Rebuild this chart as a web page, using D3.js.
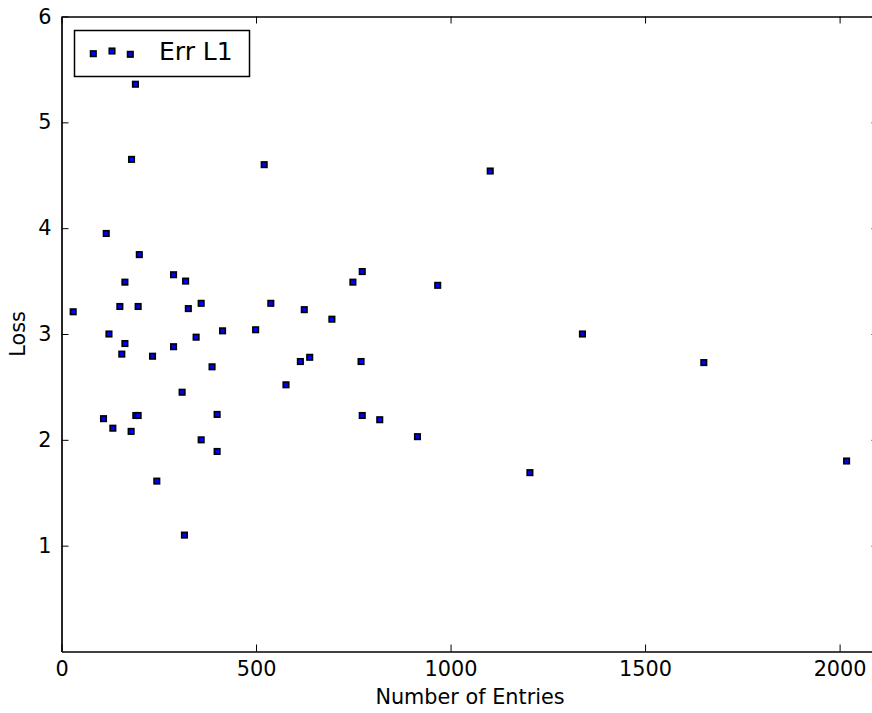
<!DOCTYPE html>
<html>
<head>
<meta charset="utf-8">
<script src="https://cdn.jsdelivr.net/npm/d3@7"></script>
<style>
  body { margin: 0; background: #fff; }
  svg { display: block; font-family: "DejaVu Sans", sans-serif; }
</style>
</head>
<body>
<div id="chart"></div>
<script>
// number of entries vs loss
var entries = [30, 190, 180, 521, 1102, 115, 200, 288, 319, 163,
               150, 197, 326, 359, 538, 624, 122, 346, 414, 499,
               163, 288, 155, 234, 387, 614, 638, 577, 310, 108,
               132, 191, 197, 179, 400, 359, 400, 245, 316, 773,
               749, 967, 695, 770, 773, 818, 915, 1339, 1204, 1651, 2018];
var loss = [3.21, 5.36, 4.65, 4.60, 4.54, 3.95, 3.75, 3.56, 3.50, 3.49,
            3.26, 3.26, 3.24, 3.29, 3.29, 3.23, 3.00, 2.97, 3.03, 3.04,
            2.91, 2.88, 2.81, 2.79, 2.69, 2.74, 2.78, 2.52, 2.45, 2.20,
            2.11, 2.23, 2.23, 2.08, 2.24, 2.00, 1.89, 1.61, 1.10, 3.59,
            3.49, 3.46, 3.14, 2.74, 2.23, 2.19, 2.03, 3.00, 1.69, 2.73, 1.80];
var xTicks = [0, 500, 1000, 1500, 2000];
var yTicks = [1, 2, 3, 4, 5, 6];
var seriesName = "Err L1";

var width = 872, height = 713;
var margin = {top: 16.5, left: 61.5, bottom: 61.5};
var plotW = 817, plotH = height - margin.top - margin.bottom;

var svg = d3.select("#chart").append("svg")
    .attr("width", width)
    .attr("height", height);

var x = d3.scaleLinear().domain([0, 2100]).range([margin.left, margin.left + plotW]);
var y = d3.scaleLinear().domain([0, 6]).range([margin.top + plotH, margin.top]);

var tickLen = 7, fontSize = 20.8;
var markSize = 5.5, markStroke = 1.6;

// axes: ticks point inwards, labels only on bottom / left
var axBottom = svg.append("g")
    .attr("transform", "translate(0," + (margin.top + plotH) + ")")
    .call(d3.axisBottom(x).tickValues(xTicks).tickSizeInner(-tickLen).tickSizeOuter(0).tickPadding(10).tickFormat(d3.format("d")));
var axTop = svg.append("g")
    .attr("transform", "translate(0," + margin.top + ")")
    .call(d3.axisTop(x).tickValues(xTicks).tickSizeInner(-tickLen).tickSizeOuter(0).tickFormat(""));
var axLeft = svg.append("g")
    .attr("transform", "translate(" + margin.left + ",0)")
    .call(d3.axisLeft(y).tickValues(yTicks).tickSizeInner(-tickLen).tickSizeOuter(0).tickPadding(10).tickFormat(d3.format("d")));
var axRight = svg.append("g")
    .attr("transform", "translate(" + (margin.left + plotW) + ",0)")
    .call(d3.axisRight(y).tickValues(yTicks).tickSizeInner(-tickLen).tickSizeOuter(0).tickFormat(""));

[axBottom, axTop, axLeft, axRight].forEach(function(g) {
    g.select(".domain").attr("stroke", "#000").attr("stroke-width", 1.7);
    g.selectAll(".tick line").attr("stroke", "#000").attr("stroke-width", 1);
    g.selectAll(".tick text")
        .attr("fill", "#000")
        .style("font-size", fontSize + "px")
        .style("font-family", "DejaVu Sans");
});

// points
svg.append("g").selectAll("rect")
    .data(entries.map(function(d, i) { return [d, loss[i]]; }))
    .enter()
    .append("rect")
    .attr("x", function(d) { return x(d[0]) - markSize / 2; })
    .attr("y", function(d) { return y(d[1]) - markSize / 2; })
    .attr("width", markSize)
    .attr("height", markSize)
    .attr("fill", "#0000ff")
    .attr("stroke", "#000")
    .attr("stroke-width", markStroke);

// axis labels
svg.append("text")
    .attr("x", margin.left + plotW / 2)
    .attr("y", 704)
    .attr("text-anchor", "middle")
    .style("font-size", fontSize + "px")
    .text("Number of Entries");
svg.append("text")
    .attr("transform", "translate(25," + (margin.top + plotH / 2) + ") rotate(-90)")
    .attr("text-anchor", "middle")
    .style("font-size", fontSize + "px")
    .text("Loss");

// legend
var legend = svg.append("g");
legend.append("rect")
    .attr("x", 74.5).attr("y", 30.5)
    .attr("width", 175).attr("height", 46)
    .attr("fill", "#fff")
    .attr("stroke", "#000")
    .attr("stroke-width", 1.5);
var legendMarks = [[93.3, 53.7], [112, 51], [130.3, 54.3]];
legend.selectAll("rect.mark")
    .data(legendMarks)
    .enter()
    .append("rect")
    .attr("class", "mark")
    .attr("x", function(d) { return d[0] - markSize / 2; })
    .attr("y", function(d) { return d[1] - markSize / 2; })
    .attr("width", markSize)
    .attr("height", markSize)
    .attr("fill", "#0000ff")
    .attr("stroke", "#000")
    .attr("stroke-width", markStroke);
legend.append("text")
    .attr("x", 159)
    .attr("y", 60)
    .style("font-size", "25px")
    .text(seriesName);
</script>
</body>
</html>
